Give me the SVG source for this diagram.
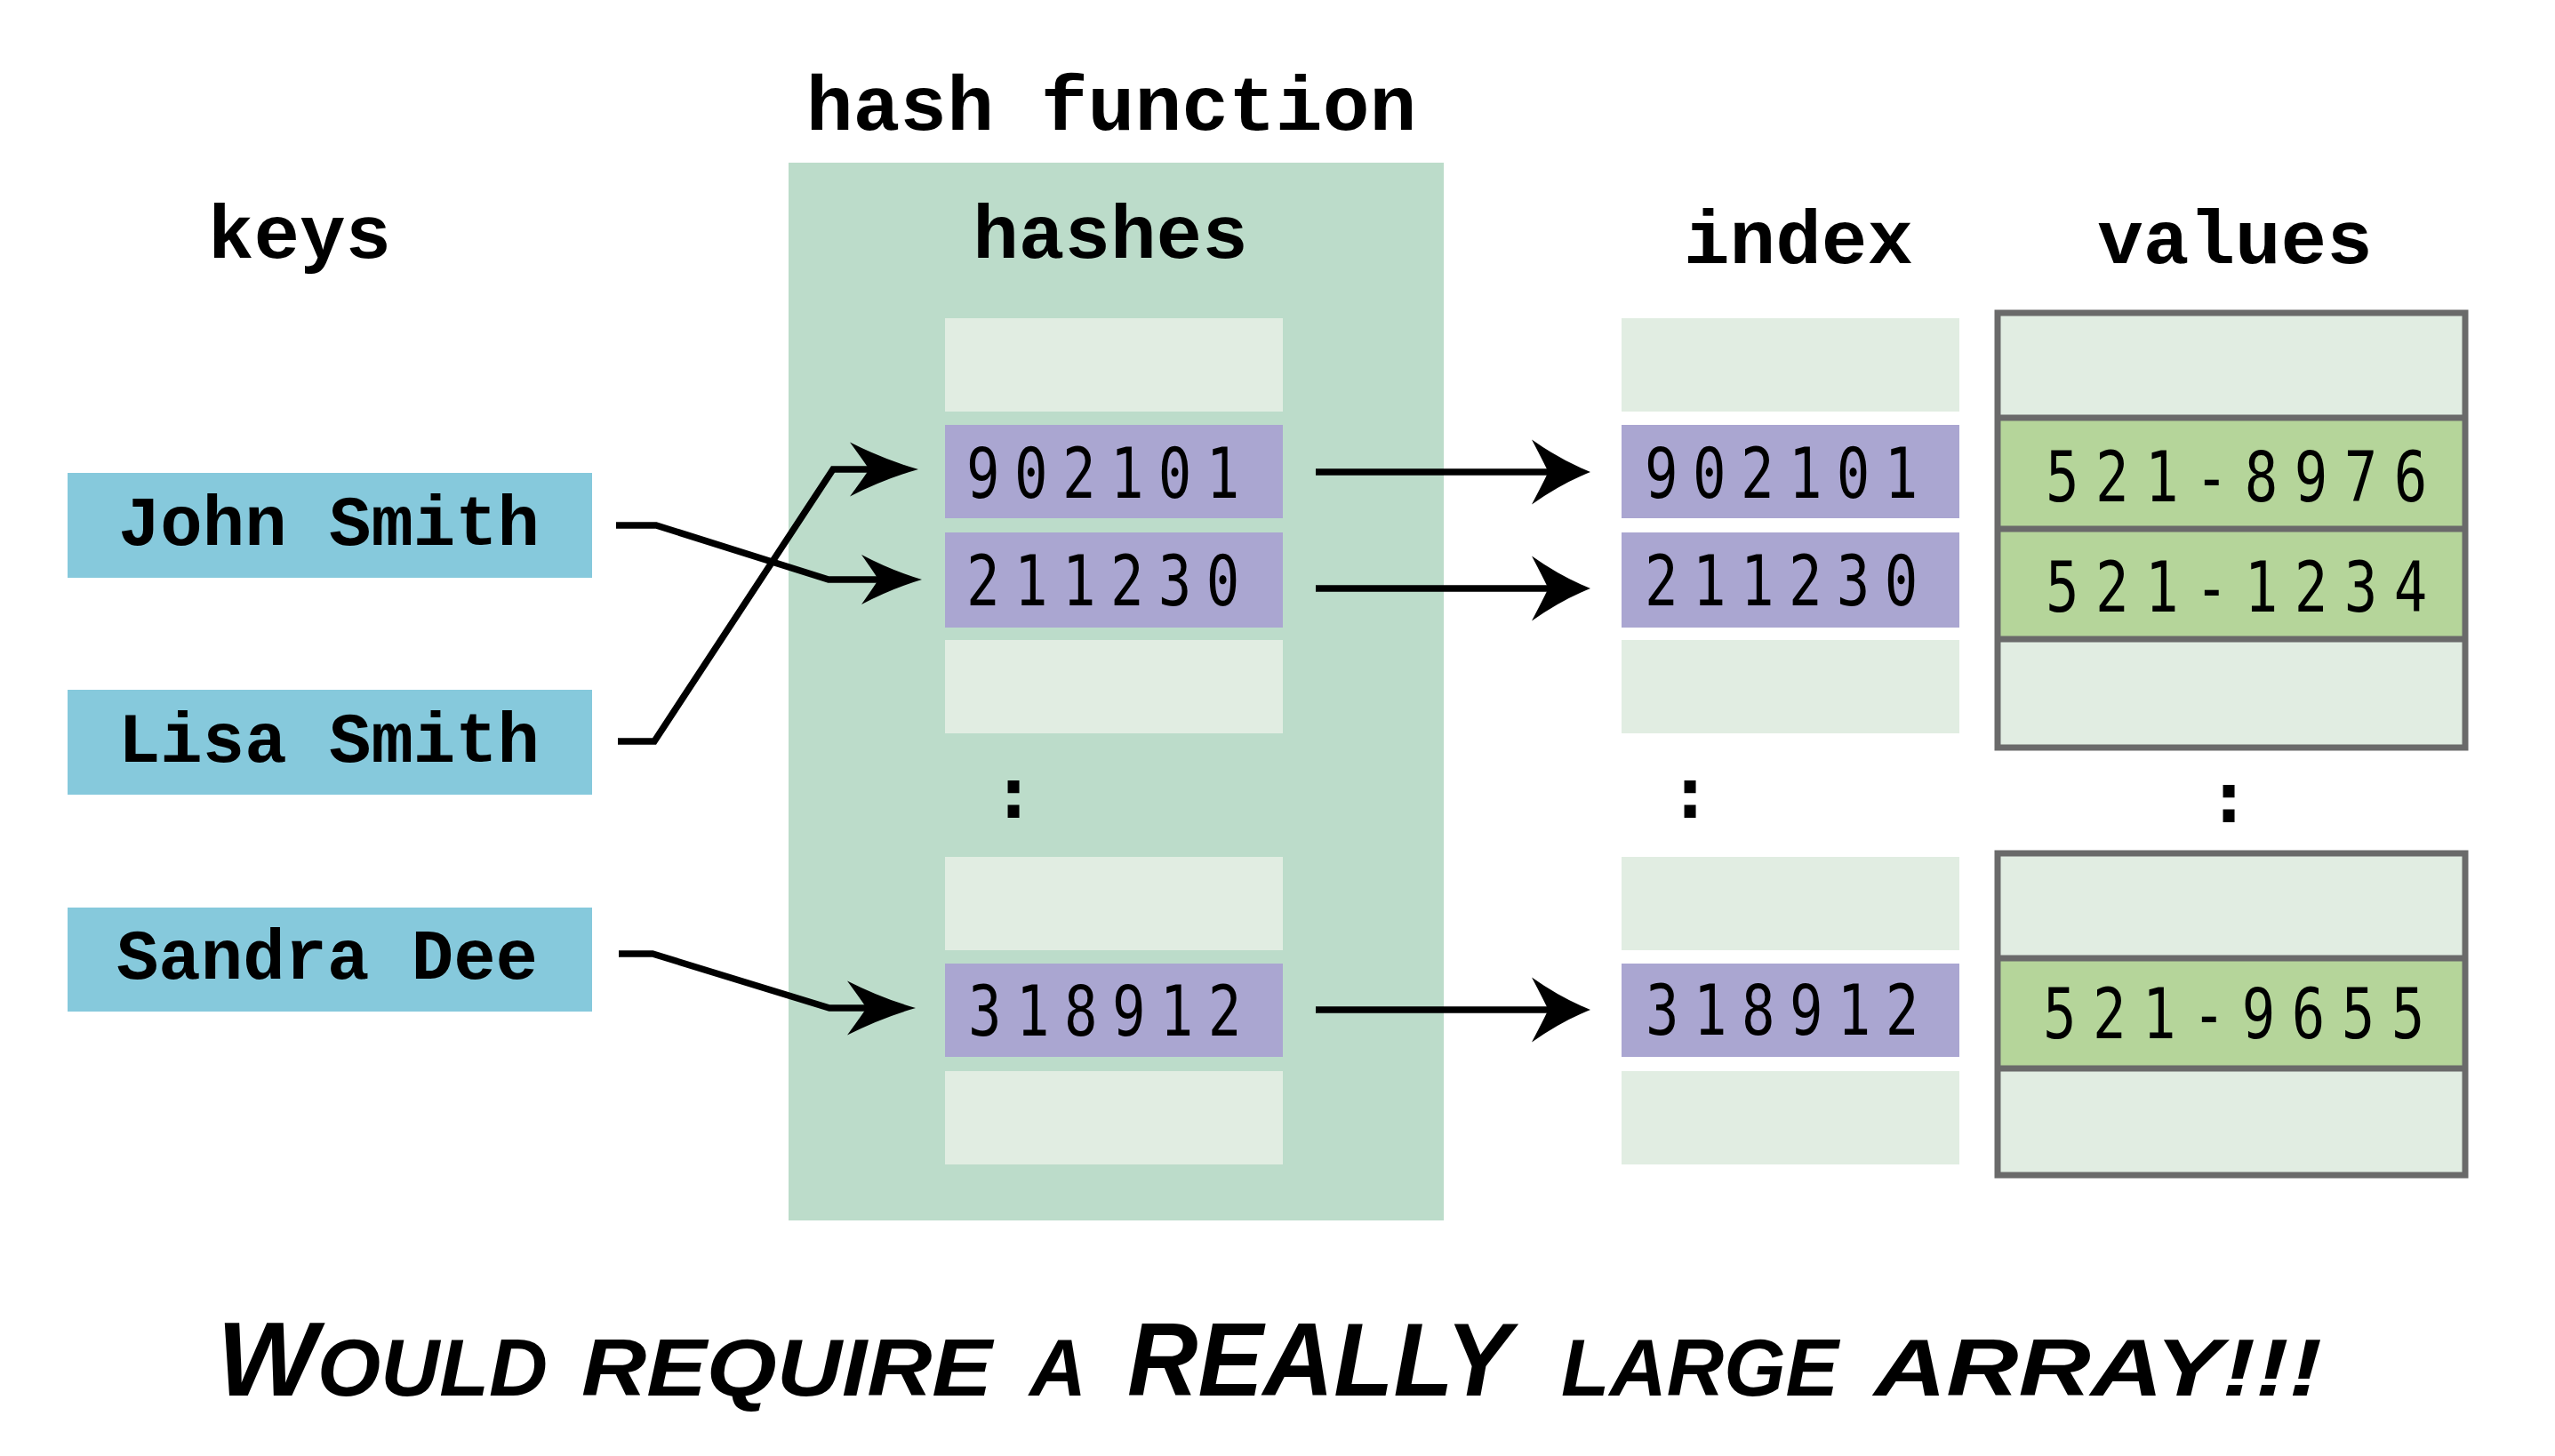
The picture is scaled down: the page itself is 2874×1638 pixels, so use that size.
<svg xmlns="http://www.w3.org/2000/svg" xmlns:xlink="http://www.w3.org/1999/xlink" width="2874" height="1638" viewBox="0 0 2874 1638">
<style>
.title{font-family:"Liberation Mono","Courier New",monospace;font-weight:bold;font-size:86px;fill:#000;text-anchor:middle}
.key{font-family:"Liberation Mono","Courier New",monospace;font-weight:bold;font-size:79px;fill:#000;text-anchor:middle}
.num{font-family:"DejaVu Sans Mono",monospace;font-size:78px;letter-spacing:20.5px;fill:#000}
.val{font-family:"DejaVu Sans Mono",monospace;font-size:78px;letter-spacing:23px;fill:#000}
.dots{font-family:"DejaVu Sans Mono",monospace;font-weight:bold;font-size:80px;fill:#000;text-anchor:middle}
.keybox{fill:#86c9dc}
.light{fill:#e1ede2}
.hash{fill:#aaa6d1}
.green{fill:#b5d59a}
.vframe{fill:none;stroke:#6a6a6a;stroke-width:7}
.line{fill:none;stroke:#000;stroke-width:7.5;stroke-linejoin:miter}
.banner{font-family:"Liberation Sans",Arial,sans-serif;font-weight:bold;font-style:italic;fill:#000}
</style>
<defs>
<path id="ah" d="M0 0 Q-0.5 -0.18 -1 -0.5 Q-0.78 -0.12 -0.72 0 Q-0.78 0.12 -1 0.5 Q-0.5 0.18 0 0 Z" fill="#000"/>
</defs>
<rect width="2874" height="1638" fill="#fff"/>

<g id="hash-function">
<rect x="887" y="183" width="737" height="1190" fill="#bcdcca"/>
<text class="title" x="1250" y="146" style="font-size:88px">hash function</text>
<text class="title" x="1249" y="290">hashes</text>
</g>

<g id="keys">
<text class="title" x="337" y="290">keys</text>
<g id="key-john"><rect class="keybox" x="76" y="532" width="590" height="118"/><text class="key" x="370" y="613">John Smith</text></g>
<g id="key-lisa"><rect class="keybox" x="76" y="776" width="590" height="118"/><text class="key" x="370" y="857">Lisa Smith</text></g>
<g id="key-sandra"><rect class="keybox" x="76" y="1021" width="590" height="117"/><text class="key" x="368" y="1101">Sandra Dee</text></g>
</g>

<g id="hashes">
<rect class="light" x="1063" y="358" width="380" height="105"/>
<g id="hash-902101"><rect class="hash" x="1063" y="478" width="380" height="105"/><text class="num" transform="translate(1087,560) scale(0.8,1)">902101</text></g>
<g id="hash-211230"><rect class="hash" x="1063" y="599" width="380" height="107"/><text class="num" transform="translate(1087,681) scale(0.8,1)">211230</text></g>
<rect class="light" x="1063" y="720" width="380" height="105"/>
<text class="dots" x="1140" y="920">:</text>
<rect class="light" x="1063" y="964" width="380" height="105"/>
<g id="hash-318912"><rect class="hash" x="1063" y="1084" width="380" height="105"/><text class="num" transform="translate(1089,1165) scale(0.8,1)">318912</text></g>
<rect class="light" x="1063" y="1205" width="380" height="105"/>
</g>

<g id="index">
<text class="title" x="2023" y="296">index</text>
<rect class="light" x="1824" y="358" width="380" height="105"/>
<g id="index-902101"><rect class="hash" x="1824" y="478" width="380" height="105"/><text class="num" transform="translate(1850,560) scale(0.8,1)">902101</text></g>
<g id="index-211230"><rect class="hash" x="1824" y="599" width="380" height="107"/><text class="num" transform="translate(1850,681) scale(0.8,1)">211230</text></g>
<rect class="light" x="1824" y="720" width="380" height="105"/>
<text class="dots" x="1901" y="920">:</text>
<rect class="light" x="1824" y="964" width="380" height="105"/>
<g id="index-318912"><rect class="hash" x="1824" y="1084" width="380" height="105"/><text class="num" transform="translate(1851,1164) scale(0.8,1)">318912</text></g>
<rect class="light" x="1824" y="1205" width="380" height="105"/>
</g>

<g id="values">
<text class="title" x="2514" y="296">values</text>
<g id="values-top">
<rect class="light" x="2247" y="352" width="526" height="118"/>
<rect class="green" x="2247" y="470" width="526" height="125"/>
<rect class="green" x="2247" y="595" width="526" height="124"/>
<rect class="light" x="2247" y="719" width="526" height="122"/>
<rect class="vframe" x="2247" y="352" width="526" height="489"/>
<path class="vframe" d="M2247 470H2773M2247 595H2773M2247 719H2773"/>
<text class="val" transform="translate(2301,564) scale(0.8,1)">521-8976</text>
<text class="val" transform="translate(2301,688) scale(0.8,1)">521-1234</text>
</g>
<text class="dots" x="2507" y="925">:</text>
<g id="values-bottom">
<rect class="light" x="2247" y="960" width="526" height="118"/>
<rect class="green" x="2247" y="1078" width="526" height="124"/>
<rect class="light" x="2247" y="1202" width="526" height="120"/>
<rect class="vframe" x="2247" y="960" width="526" height="362"/>
<path class="vframe" d="M2247 1078H2773M2247 1202H2773"/>
<text class="val" transform="translate(2298,1168) scale(0.8,1)">521-9655</text>
</g>
</g>

<g id="connectors">
<path class="line" d="M693 591H738L932 652H995"/>
<use xlink:href="#ah" transform="translate(1037,652) scale(68,56)"/>
<path class="line" d="M695 834H736L937 528H990"/>
<use xlink:href="#ah" transform="translate(1033,528) scale(77,61)"/>
<path class="line" d="M696 1073H734L933 1134H985"/>
<use xlink:href="#ah" transform="translate(1030,1134) scale(77,61)"/>
<path class="line" d="M1480 531H1750"/>
<use xlink:href="#ah" transform="translate(1789,531) scale(66,73)"/>
<path class="line" d="M1480 662H1750"/>
<use xlink:href="#ah" transform="translate(1789,662) scale(66,73)"/>
<path class="line" d="M1480 1136H1750"/>
<use xlink:href="#ah" transform="translate(1789,1136) scale(66,73)"/>
</g>

<text class="banner" y="1570"><tspan x="244" font-size="118" textLength="372" lengthAdjust="spacingAndGlyphs">W<tspan font-size="90">OULD</tspan></tspan><tspan x="654" font-size="90" textLength="462" lengthAdjust="spacingAndGlyphs">REQUIRE</tspan><tspan x="1158" font-size="90" textLength="64" lengthAdjust="spacingAndGlyphs">A</tspan><tspan x="1268" font-size="116" textLength="432" lengthAdjust="spacingAndGlyphs">REALLY</tspan><tspan x="1756" font-size="90" textLength="312" lengthAdjust="spacingAndGlyphs">LARGE</tspan><tspan x="2108" font-size="90" textLength="504" lengthAdjust="spacingAndGlyphs">ARRAY!!!</tspan></text>
</svg>
